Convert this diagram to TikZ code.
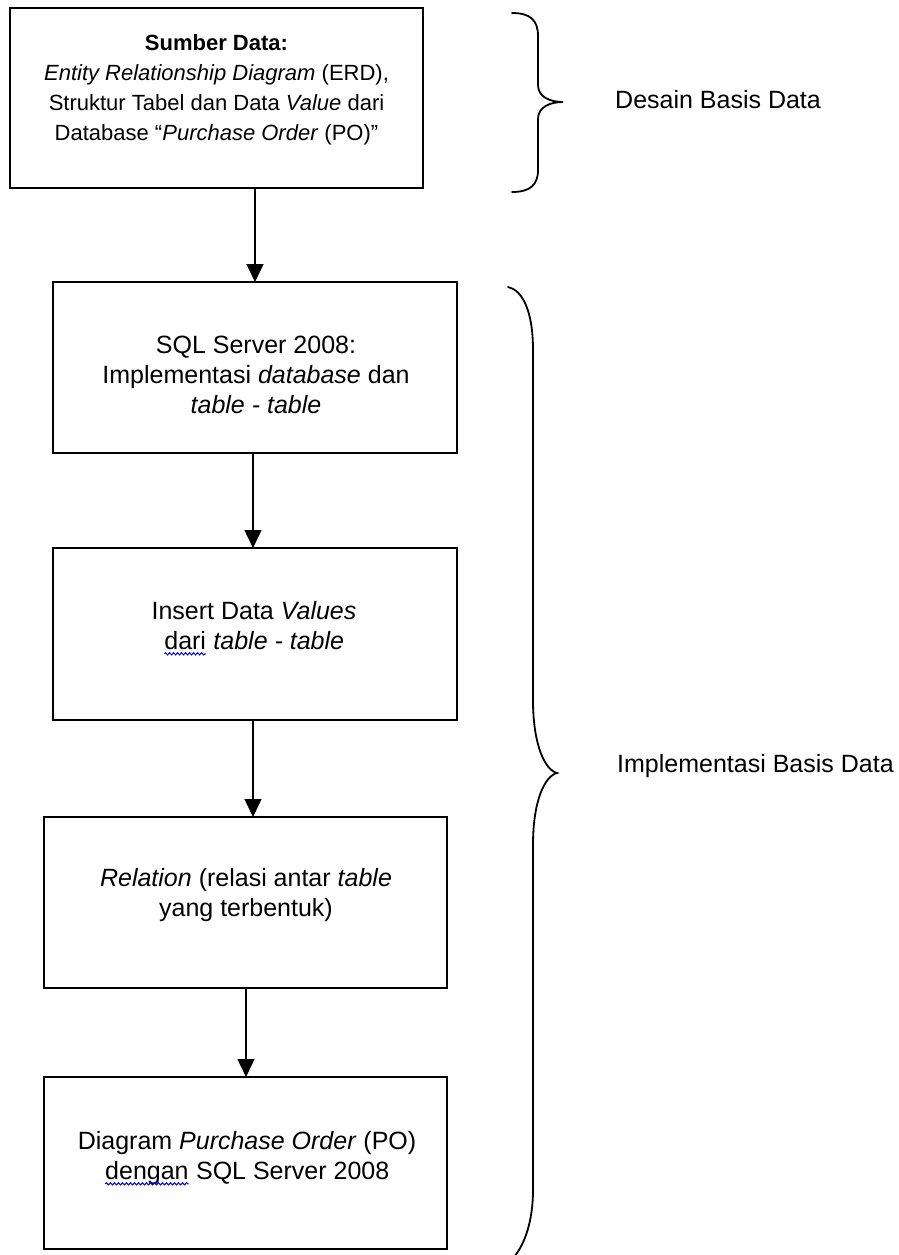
\documentclass[tikz,border=0pt]{standalone}
\usepackage{fontspec}
\setmainfont{Liberation Sans}
\usetikzlibrary{arrows.meta,decorations.pathmorphing}
\newcommand\wavyword[1]{\tikz[baseline=(w.base)]{\node[inner sep=0pt,outer sep=0pt](w){#1};\draw[blue,line width=1pt,decorate,decoration={snake,amplitude=1.1pt,segment length=4pt}]([yshift=-4.5pt]w.base west)--([yshift=-4.5pt]w.base east);}}
\begin{document}
\begin{tikzpicture}[x=1pt,y=-1pt,
  box/.style={draw,line width=2pt,inner sep=0pt,outer sep=0pt},
  txt/.style={inner sep=0pt,align=center,anchor=north,font=\fontsize{25}{30}\selectfont},
  smalltxt/.style={txt,font=\fontsize{22}{30}\selectfont},
  lbl/.style={inner sep=0pt,anchor=base west,font=\fontsize{25}{30}\selectfont},
  flow/.style={line width=1.5pt,-{Triangle[length=18pt,width=17pt]}},
  brace/.style={line width=1.8pt,line cap=round}]
\useasboundingbox (0,0) rectangle (899,1255);
\fill[white] (0,0) rectangle (899,1255);

\node[box,minimum width=413pt,minimum height=180pt] (b1) at (216.5,98) {};
\node[box,minimum width=404pt,minimum height=171pt] (b2) at (255,367.5) {};
\node[box,minimum width=404pt,minimum height=172pt] (b3) at (255,634) {};
\node[box,minimum width=403pt,minimum height=171pt] (b4) at (245.5,902.5) {};
\node[box,minimum width=403pt,minimum height=172pt] (b5) at (245.5,1163) {};

\node[smalltxt] (t1) at (216.5,34) {\textbf{Sumber Data:}\\\textit{Entity Relationship Diagram} (ERD),\\Struktur Tabel dan Data \textit{Value} dari\\Database “\textit{Purchase Order} (PO)”};
\node[txt] (t2) at (256,336) {SQL Server 2008:\\Implementasi \textit{database} dan\\\textit{table - table}};
\node[txt] (t3) at (254,601) {Insert Data \textit{Values}\\\wavyword{dari} \textit{table - table}};
\node[txt] (t4) at (246,868) {\textit{Relation} (relasi antar \textit{table}\\yang terbentuk)};
\node[txt] (t5) at (247,1131) {Diagram \textit{Purchase Order} (PO)\\\wavyword{dengan} SQL Server 2008};

\draw[flow] (b2.north |- b1.south) -- (b2.north);
\draw[flow] ([xshift=-2pt]b2.south) -- ([xshift=-2pt]b3.north);
\draw[flow] ([xshift=-2pt]b3.south) -- ([xshift=-2pt]b3.south |- b4.north);
\draw[flow] ([xshift=0.5pt]b4.south) -- ([xshift=0.5pt]b5.north);

\draw[brace] (512,13) .. controls (530,13) and (538,20) .. (538,36) -- (538,85) .. controls (538,97) and (550,102) .. (563,102) .. controls (550,102) and (538,107) .. (538,119) -- (538,170) .. controls (538,185) and (530,192) .. (512,192);
\draw[brace] (508,287) .. controls (522,290) and (533,310) .. (533,350) -- (533,700) .. controls (533,745) and (545,770) .. (557,773) .. controls (545,776) and (533,800) .. (533,845) -- (533,1190) .. controls (533,1220) and (525,1245) .. (513,1258);

\node[lbl] (l1) at (615,108) {Desain Basis Data};
\node[lbl] (l2) at (617,772) {Implementasi Basis Data};
\end{tikzpicture}
\end{document}
